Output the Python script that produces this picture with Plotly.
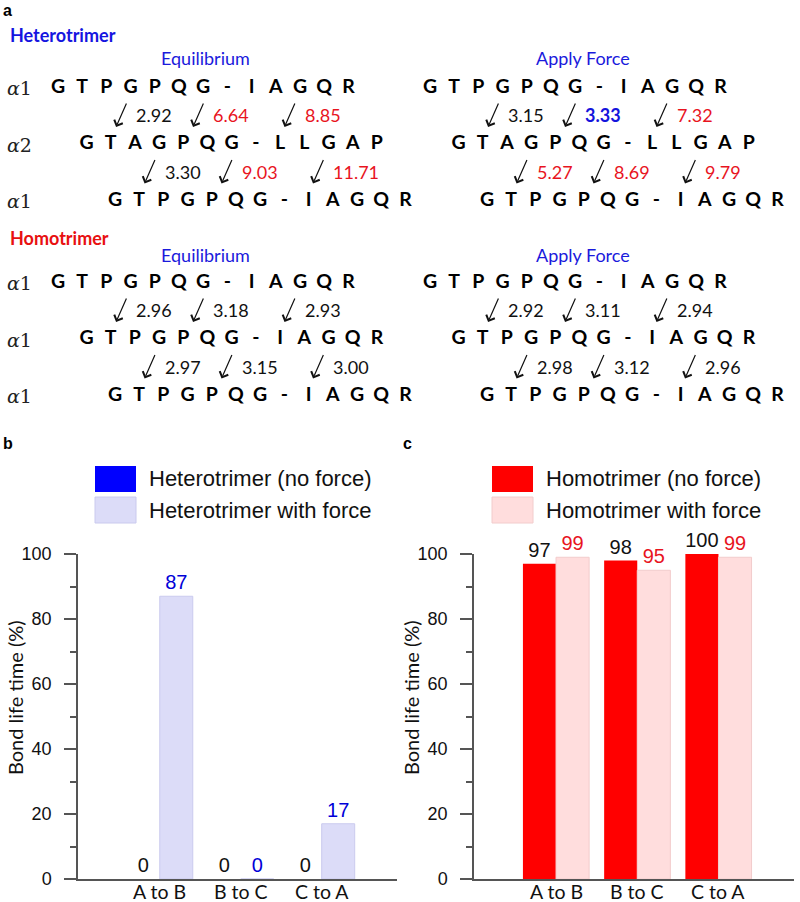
import plotly.graph_objects as go

W, H = 800, 902

# ---------------- data ----------------
alpha1_seq = list("GTPGPQG-IAGQR")
alpha2_seq = list("GTAGPQG-LLGAP")

hetero_chains = [("1", alpha1_seq), ("2", alpha2_seq), ("1", alpha1_seq)]
homo_chains = [("1", alpha1_seq), ("1", alpha1_seq), ("1", alpha1_seq)]

# distances between chains (upper pair, lower pair)
hetero_eq = [[2.92, 6.64, 8.85], [3.30, 9.03, 11.71]]
hetero_eq_style = [["k", "r", "r"], ["k", "r", "r"]]
hetero_force = [[3.15, 3.33, 7.32], [5.27, 8.69, 9.79]]
hetero_force_style = [["k", "b", "r"], ["r", "r", "r"]]
homo_eq = [[2.96, 3.18, 2.93], [2.97, 3.15, 3.00]]
homo_eq_style = [["k", "k", "k"], ["k", "k", "k"]]
homo_force = [[2.92, 3.11, 2.94], [2.98, 3.12, 2.96]]
homo_force_style = [["k", "k", "k"], ["k", "k", "k"]]

bond_cats = ["A to B", "B to C", "C to A"]
hetero_noforce = [0, 0, 0]
hetero_withforce = [87, 0, 17]
homo_noforce = [97, 98, 100]
homo_withforce = [99, 95, 99]

# ---------------- styles ----------------
BLUE = "#0000FF"
LIGHT_BLUE = "#DCDCF8"
RED = "#FF0000"
PINK = "#FFDDDD"
TXT_RED = "#E8141E"
TXT_BLUE = "#1414DC"
AX = "#555555"
SEQ_FONT = "Lato"
NUM_FONT = "Liberation Sans"

style_color = {"k": "#111111", "r": TXT_RED, "b": TXT_BLUE}

# layout geometry of panel a (pixel-like coordinates of hidden axis)
SP = 24.2            # letter spacing
ROW_SHIFT = 28.5     # each lower chain shifted right
ROW_GAP = 56.5
SIDE_X0 = [58, 430]  # first letter of first chain, left / right
ARROW_POS = [2.4, 5.58, 9.36]  # arrow heads along upper chain (letter units)

def px(x):
    return x / W

def py(y):
    return 1 - y / H

fig = go.Figure()

annotations = []
shapes = []

def add_text(x, y, text, size, color="#111111", family=SEQ_FONT, xanchor="center"):
    annotations.append(dict(x=x, y=y, xref="x3", yref="y3",
                            text=text, showarrow=False, xanchor=xanchor, yanchor="middle",
                            font=dict(size=size, color=color, family=family)))

blocks = [
    dict(title="<b>Heterotrimer</b>", title_color="#1515E0", title_y=35, sub_y=58, row0=88,
         chains=hetero_chains, dists=[hetero_eq, hetero_force],
         styles=[hetero_eq_style, hetero_force_style]),
    dict(title="<b>Homotrimer</b>", title_color="#E81010", title_y=238, sub_y=255, row0=283,
         chains=homo_chains, dists=[homo_eq, homo_force],
         styles=[homo_eq_style, homo_force_style]),
]
subtitles = ["Equilibrium", "Apply Force"]
subtitle_x = [205, 583]

for blk in blocks:
    add_text(8, blk["title_y"], blk["title"], 18, blk["title_color"], xanchor="left")
    for side in range(2):
        add_text(subtitle_x[side], blk["sub_y"], subtitles[side], 18, "#1a1adc")
        for r, (lab, seq) in enumerate(blk["chains"]):
            y = blk["row0"] + r * ROW_GAP
            x0 = SIDE_X0[side] + r * ROW_SHIFT
            fig.add_trace(go.Scatter(
                x=[x0 + i * SP for i in range(len(seq))], y=[y] * len(seq),
                text=[f"<b>{c}</b>" for c in seq], mode="text",
                textfont=dict(family=SEQ_FONT, size=19.5, color="#000000"),
                xaxis="x3", yaxis="y3", showlegend=False, hoverinfo="skip"))
            if side == 0:
                add_text(5, y, "<i>α</i>1" if lab == "1" else "<i>α</i>2", 19, "#222222",
                         family="DejaVu Serif", xanchor="left")
        for r in range(2):
            yu = blk["row0"] + r * ROW_GAP
            xu = SIDE_X0[side] + r * ROW_SHIFT
            vals = blk["dists"][side][r]
            sty = blk["styles"][side][r]
            for k, pos in enumerate(ARROW_POS):
                hx = xu + pos * SP
                hy = yu + 39
                annotations.append(dict(x=hx, y=hy, ax=hx + 11, ay=hy - 25,
                                        xref="x3", yref="y3", axref="x3", ayref="y3",
                                        text="", showarrow=True, arrowhead=4, arrowsize=1.5,
                                        arrowwidth=1.2, arrowcolor="#111111"))
                t = f"{vals[k]:.2f}"
                if sty[k] == "b":
                    t = f"<b>{t}</b>"
                add_text(hx + 18, yu + 27, t, 18, style_color[sty[k]], xanchor="left")

# ---------------- bar charts ----------------
def bar(x, y, name, color, line_color, txt_color, xa, ya):
    return go.Bar(x=x, y=y, name=name,
                  marker=dict(color=color, line=dict(width=1 if line_color else 0,
                                                     color=line_color or color)),
                  text=y, textposition="outside", cliponaxis=False, constraintext="none",
                  textfont=dict(family=NUM_FONT, size=20, color=txt_color),
                  xaxis=xa, yaxis=ya, showlegend=False, hoverinfo="skip")

fig.add_trace(bar(bond_cats, hetero_noforce, "Heterotrimer (no force)", BLUE, None, "#111111", "x", "y"))
fig.add_trace(bar(bond_cats, hetero_withforce, "Heterotrimer with force", LIGHT_BLUE, "#CACAEE", "#0000D8", "x", "y"))
fig.add_trace(bar(bond_cats, homo_noforce, "Homotrimer (no force)", RED, None, "#111111", "x2", "y2"))
fig.add_trace(bar(bond_cats, homo_withforce, "Homotrimer with force", PINK, "#F2CCCC", TXT_RED, "x2", "y2"))

y_dom = [py(879), py(554)]
xaxis_common = dict(showline=True, linecolor=AX, linewidth=1.5, ticks="", showgrid=False,
                    zeroline=False, range=[-1.01, 2.93], showticklabels=False,
                    fixedrange=True)
yaxis_common = dict(showline=True, linecolor=AX, linewidth=1.5, ticks="outside", ticklen=12,
                    tickwidth=1.5, tickcolor=AX, dtick=20, range=[0, 100], showgrid=False,
                    zeroline=False, domain=y_dom, ticklabelstandoff=9, fixedrange=True,
                    tickfont=dict(family=NUM_FONT, size=18, color="#111111"),
                    minor=dict(ticks="outside", ticklen=6, dtick=10, tickwidth=1.5,
                               tickcolor=AX, showgrid=False))

fig.update_layout(
    width=W, height=H, autosize=False,
    margin=dict(l=0, r=0, t=0, b=0, pad=0, autoexpand=False),
    paper_bgcolor="white", plot_bgcolor="white",
    barmode="group", bargap=0.185, bargroupgap=0,
    xaxis=dict(domain=[px(78), px(397)], anchor="y", **xaxis_common),
    yaxis=dict(anchor="x", **yaxis_common),
    xaxis2=dict(domain=[px(474), px(794)], anchor="y2", **xaxis_common),
    yaxis2=dict(anchor="x2", **yaxis_common),
    xaxis3=dict(domain=[0, 1], range=[0, 800], visible=False, anchor="y3", fixedrange=True),
    yaxis3=dict(domain=[py(420), 1], range=[420, 0], visible=False, anchor="x3", fixedrange=True),
)

# category labels under the bar axes (placed on the category axes)
for xa in ["x", "x2"]:
    for c in bond_cats:
        annotations.append(dict(x=c, y=py(891), xref=xa, yref="paper", text=c,
                                showarrow=False, xanchor="center", yanchor="middle",
                                font=dict(family=SEQ_FONT, size=19.5, color="#111111")))

# legends for bar panels (swatches + labels)
legend_items = [
    (95, "Heterotrimer (no force)", BLUE, None),
    (95, "Heterotrimer with force", LIGHT_BLUE, "#CACAEE"),
    (492, "Homotrimer (no force)", RED, None),
    (492, "Homotrimer with force", PINK, "#F2CCCC"),
]
for i, (lx, lab, col, lc) in enumerate(legend_items):
    top = 466 if i % 2 == 0 else 497
    shapes.append(dict(type="rect", xref="paper", yref="paper",
                       x0=px(lx), x1=px(lx + 41), y0=py(top + 26), y1=py(top),
                       fillcolor=col, line=dict(width=1 if lc else 0, color=lc or col)))
    annotations.append(dict(x=px(lx + 52), y=py(top + 13), xref="paper", yref="paper",
                            text=lab, showarrow=False, xanchor="left", yanchor="middle",
                            font=dict(family=NUM_FONT, size=22, color="#111111")))

# y-axis titles
for xt in [15, 411]:
    annotations.append(dict(x=px(xt), y=py(698), xref="paper", yref="paper",
                            text="Bond life time (%)", showarrow=False, textangle=-90,
                            xanchor="center", yanchor="middle",
                            font=dict(family=SEQ_FONT, size=20, color="#111111")))

# panel letters
for lx, ly, t in [(1, 10, "a"), (1, 444, "b"), (401, 444, "c")]:
    annotations.append(dict(x=px(lx), y=py(ly), xref="paper", yref="paper", text=f"<b>{t}</b>",
                            showarrow=False, xanchor="left", yanchor="middle",
                            font=dict(family=NUM_FONT, size=16, color="#000000")))

fig.update_layout(annotations=annotations, shapes=shapes)

fig.write_html("out.html", config={"displayModeBar": False},
               post_script="document.body.style.margin='0px';")
